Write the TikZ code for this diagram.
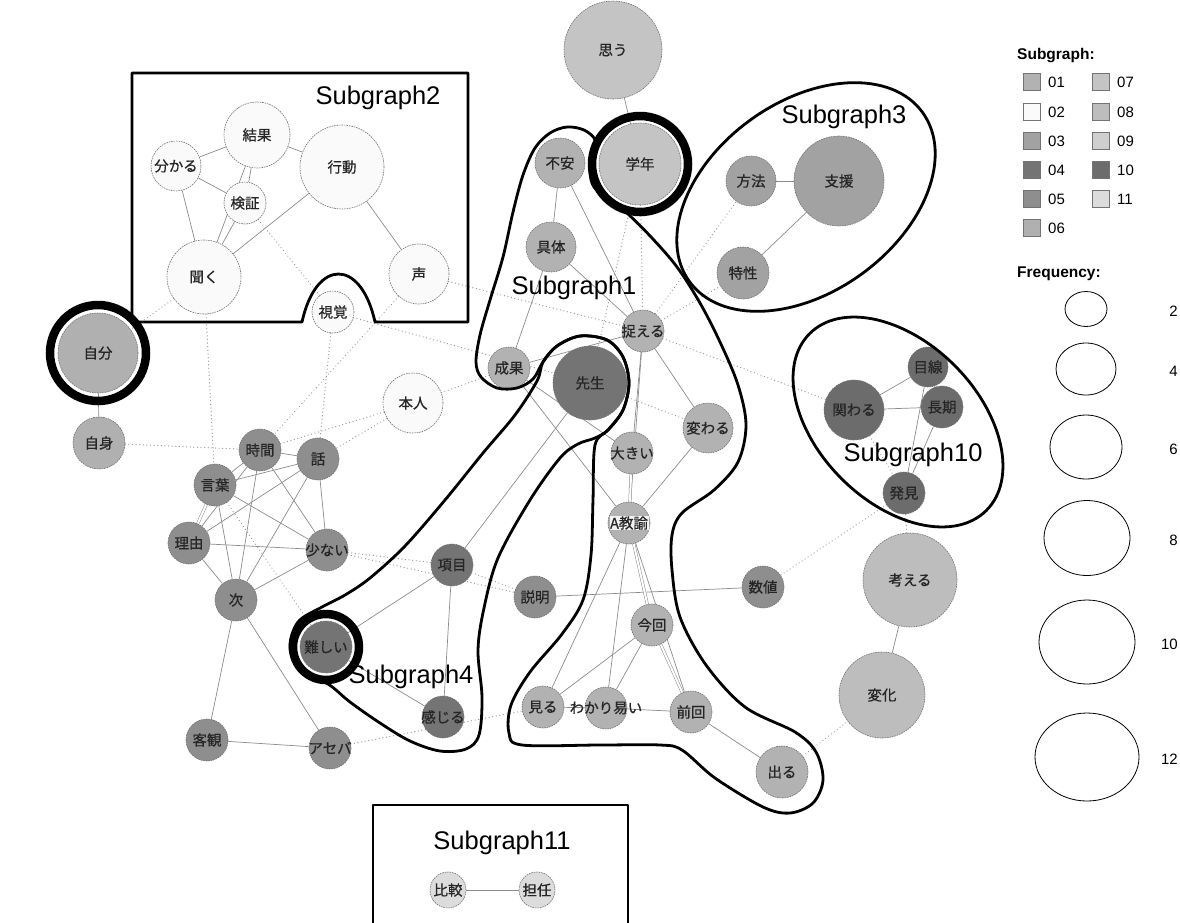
\documentclass[tikz,border=0pt]{standalone}
\usepackage{fontspec}
\setmainfont{Liberation Sans}
\newfontfamily\jp[AutoFakeBold=0.7]{Noto Sans CJK JP}
\usetikzlibrary{backgrounds,shapes.geometric}
\definecolor{c01}{HTML}{B2B2B2}
\definecolor{c02}{HTML}{FAFAFA}
\definecolor{c03}{HTML}{A2A2A2}
\definecolor{c04}{HTML}{747474}
\definecolor{c05}{HTML}{8E8E8E}
\definecolor{c06}{HTML}{B0B0B0}
\definecolor{c07}{HTML}{C4C4C4}
\definecolor{c08}{HTML}{BDBDBD}
\definecolor{c09}{HTML}{CFCFCF}
\definecolor{c10}{HTML}{6C6C6C}
\definecolor{c11}{HTML}{DCDCDC}
\tikzset{
 nd/.style={circle, draw=black!55, dash pattern=on 1.6pt off 0.9pt, line width=0.6pt, inner sep=0pt, font=\jp\bfseries\fontsize{14.5}{14.5}\selectfont, text=black!85,
   execute at begin node={\hbox to 0pt\bgroup\hss}, execute at end node={\hss\egroup}},
 ed/.style={draw=black!45, line width=0.7pt},
 edd/.style={draw=black!45, line width=0.5pt, double=white, double distance=2pt},
 dt/.style={draw=black!40, line width=1.3pt, dash pattern=on 0.01pt off 3.6pt, line cap=round},
 sgline/.style={draw=black, line width=2.8pt, line join=round},
 ring/.style={draw=black, line width=8.5pt},
 sglabel/.style={font=\fontsize{25.5}{26}\selectfont, inner sep=0pt},
 lgbox/.style={rectangle, draw=black!55, line width=0.6pt, minimum size=17pt, inner sep=0pt},
 lgtxt/.style={font=\fontsize{15}{15}\selectfont, inner sep=0pt, anchor=west},
 lgell/.style={ellipse, draw=black, line width=0.8pt, inner sep=0pt},
 lgnum/.style={font=\fontsize{15}{15}\selectfont, inner sep=0pt, anchor=east},
}
\begin{document}
\begin{tikzpicture}[x=1pt,y=-1pt]
\useasboundingbox (0,0) rectangle (1180,922);
% ---------- nodes ----------
\node[nd, fill=c07, minimum size=98pt] (omou) at (613,50) {思う};
\node[nd, fill=c07, minimum size=82pt] (gakunen) at (640,164) {学年};
\node[nd, fill=c01, minimum size=50pt] (fuan) at (560,163) {不安};
\node[nd, fill=c01, minimum size=50pt] (gutai) at (551,247) {具体};
\node[nd, fill=c03, minimum size=50pt] (houhou) at (751,181) {方法};
\node[nd, fill=c03, minimum size=90pt] (shien) at (839,181) {支援};
\node[nd, fill=c03, minimum size=52pt] (tokusei) at (743,273) {特性};
\node[nd, fill=c02, minimum size=66pt] (kekka) at (257,135) {結果};
\node[nd, fill=c02, minimum size=50pt] (wakaru) at (176,166) {分かる};
\node[nd, fill=c02, minimum size=84pt] (koudou) at (342,167) {行動};
\node[nd, fill=c02, minimum size=42pt] (kenshou) at (245,203) {検証};
\node[nd, fill=c02, minimum size=74pt] (kiku) at (204,277) {聞く};
\node[nd, fill=c02, minimum size=60pt] (koe) at (419,274) {声};
\node[nd, fill=c02, minimum size=42pt] (shikaku) at (333,312) {視覚};
\node[nd, fill=c06, minimum size=80pt] (jibun) at (98,353) {自分};
\node[nd, fill=c06, minimum size=52pt] (jishin) at (99,443) {自身};
\node[nd, fill=c02, minimum size=60pt] (honnin) at (413,403) {本人};
\node[nd, fill=c05, minimum size=42pt] (jikan) at (260,450) {時間};
\node[nd, fill=c05, minimum size=42pt] (hanashi) at (318,459) {話};
\node[nd, fill=c05, minimum size=42pt] (kotoba) at (215,485) {言葉};
\node[nd, fill=c05, minimum size=42pt] (riyuu) at (189,543) {理由};
\node[nd, fill=c05, minimum size=42pt] (sukunai) at (327,550) {少ない};
\node[nd, fill=c05, minimum size=42pt] (tsugi) at (236,600) {次};
\node[nd, fill=c05, minimum size=42pt] (kyakkan) at (207,740) {客観};
\node[nd, fill=c05, minimum size=42pt] (aseba) at (330,748) {アセバ};
\node[nd, fill=c04, minimum size=42pt] (koumoku) at (452,565) {項目};
\node[nd, fill=c04, minimum size=52pt] (muzu) at (326,647) {難しい};
\node[nd, fill=c04, minimum size=42pt] (kanjiru) at (443,717) {感じる};
\node[nd, fill=c04, minimum size=74pt] (sensei) at (590,383) {先生};
\node[nd, fill=c01, minimum size=42pt] (toraeru) at (643,331) {捉える};
\node[nd, fill=c01, minimum size=42pt] (seika) at (509,368) {成果};
\node[nd, fill=c01, minimum size=50pt] (kawaru) at (708,428) {変わる};
\node[nd, fill=c01, minimum size=42pt] (ookii) at (632,453) {大きい};
\node[nd, fill=c01, minimum size=42pt] (akyo) at (629,523) {};
\node[fill=white!85!c01, inner sep=0.6pt, font=\jp\bfseries\fontsize{14.5}{14.5}\selectfont, text=black!85] (akyolab) at (629,523) {A教諭};
\node[nd, fill=c05, minimum size=42pt] (setsumei) at (535,597) {説明};
\node[nd, fill=c05, minimum size=42pt] (suuchi) at (763,587) {数値};
\node[nd, fill=c01, minimum size=42pt] (konkai) at (652,625) {今回};
\node[nd, fill=c01, minimum size=42pt] (miru) at (543,707) {見る};
\node[nd, fill=c01, minimum size=42pt] (wakari) at (606,708) {わかり易い};
\node[nd, fill=c01, minimum size=42pt] (zenkai) at (691,712) {前回};
\node[nd, fill=c01, minimum size=52pt] (deru) at (782,772) {出る};
\node[nd, fill=c10, minimum size=40pt] (mesen) at (928,367) {目線};
\node[nd, fill=c10, minimum size=60pt] (kakawaru) at (854,410) {関わる};
\node[nd, fill=c10, minimum size=42pt] (chouki) at (942,407) {長期};
\node[nd, fill=c10, minimum size=42pt] (hakken) at (904,493) {発見};
\node[nd, fill=c08, minimum size=94pt] (kangaeru) at (910,580) {考える};
\node[nd, fill=c08, minimum size=86pt] (henka) at (882,695) {変化};
\node[nd, fill=c11, minimum size=36pt] (hikaku) at (448,890) {比較};
\node[nd, fill=c11, minimum size=36pt] (tannin) at (537,890) {担任};
% ---------- edges ----------
\begin{scope}[on background layer]
\fill[white] (0,0) rectangle (1180,922);
% dotted
\foreach \a/\b in {kiku/jibun, kiku/kotoba, kenshou/shikaku, koe/toraeru, koe/jikan, shikaku/hanashi, shikaku/sensei, jishin/jikan, honnin/seika, honnin/hanashi, honnin/jikan, sukunai/koumoku, sukunai/setsumei, koumoku/setsumei, aseba/miru, sensei/kawaru, toraeru/kakawaru, hakken/suuchi, kakawaru/hakken, deru/henka, kangaeru/hakken, kotoba/muzu, gakunen/sensei, gakunen/toraeru, toraeru/houhou, toraeru/tokusei}
  \draw[dt] (\a) -- (\b);
% solid
\foreach \a/\b in {omou/gakunen, fuan/gutai, fuan/toraeru, gutai/toraeru, gutai/seika, seika/toraeru, toraeru/ookii, toraeru/akyo, toraeru/kawaru, seika/ookii, seika/akyo, kawaru/akyo, akyo/miru, akyo/wakari, akyo/zenkai, konkai/miru, konkai/wakari, miru/wakari, wakari/zenkai, zenkai/deru, houhou/shien, shien/tokusei, wakaru/kekka, kekka/koudou, wakaru/kenshou, kekka/kenshou, kekka/kiku, kenshou/kiku, wakaru/kiku, koudou/kiku, koudou/koe, jibun/jishin, jikan/hanashi, jikan/kotoba, jikan/riyuu, jikan/tsugi, jikan/sukunai, hanashi/kotoba, hanashi/riyuu, hanashi/tsugi, hanashi/sukunai, kotoba/tsugi, kotoba/sukunai, riyuu/sukunai, riyuu/tsugi, tsugi/sukunai, tsugi/kyakkan, tsugi/aseba, kyakkan/aseba, sensei/koumoku, koumoku/muzu, koumoku/kanjiru, muzu/kanjiru, setsumei/suuchi, kakawaru/mesen, kakawaru/chouki, mesen/chouki, mesen/hakken, chouki/hakken, kangaeru/henka, hikaku/tannin}
  \draw[ed] (\a) -- (\b);
\foreach \a/\b in {ookii/akyo, akyo/konkai, konkai/zenkai, kotoba/riyuu}
  \draw[edd] (\a) -- (\b);
\end{scope}
% ---------- subgraph outlines ----------
\draw[sgline] (132,73) -- (468,73) -- (468,322) -- (375,322) .. controls (361,258) and (316,258) .. (302,322) -- (132,322) -- cycle;
\draw[sgline] (373,925) -- (373,805) -- (628,805) -- (628,925);
\draw[sgline] [rotate around={36:(806,197)}] (806,197) ellipse [x radius=144pt, y radius=95pt];
\draw[sgline] [rotate around={-45:(898,422)}] (898,422) ellipse [x radius=125pt, y radius=80pt];
\draw[sgline] plot[smooth cycle, tension=0.55] coordinates {(490,300) (503,257) (513,212) (523,175) (535,148) (550,133) (567,127) (584,130) (595,140) (592,155) (590,172) (594,187) (610,200) (628,214) (652,238) (677,267) (700,303) (720,342) (738,385) (746,425) (738,462) (714,490) (682,513) (672,535) (672,570) (680,617) (706,665) (745,707) (795,732) (816,752) (823,780) (813,803) (790,813) (763,807) (715,778) (682,750) (660,745) (600,745) (522,745) (509,733) (511,705) (530,672) (562,634) (583,600) (591,555) (593,500) (595,445) (608,430) (623,410) (629,383) (623,357) (607,340) (580,336) (557,346) (543,362) (533,379) (517,388) (497,388) (481,377) (476,362) (480,335)};
\draw[sgline] plot[smooth cycle, tension=0.55] coordinates {(537,381) (543,362) (557,346) (580,336) (607,340) (623,357) (629,383) (623,410) (608,430) (595,438) (578,444) (560,458) (530,500) (498,558) (484,608) (478,650) (482,697) (479,735) (466,749) (440,751) (410,741) (380,723) (350,702) (328,684) (302,673) (290,648) (298,622) (322,607) (345,595) (370,578) (405,546) (445,500) (483,453) (515,415)};
% rings
\draw[ring] (jibun.center) circle[radius=48pt];
\draw[ring] (gakunen.center) circle[radius=48pt];
\draw[ring] (muzu.center) circle[radius=33pt];
% subgraph labels
\node[sglabel] (sg2) at (378,98) {Subgraph2};
\node[sglabel] (sg3) at (844,117) {Subgraph3};
\node[sglabel] (sg1) at (574,288) {Subgraph1};
\node[sglabel] (sg10) at (913,455) {Subgraph10};
\node[sglabel] (sg4) at (411,677) {Subgraph4};
\node[sglabel] (sg11) at (502,843) {Subgraph11};
% ---------- legend ----------
\node[font=\bfseries\fontsize{15.5}{16}\selectfont, inner sep=0pt, anchor=west] (lgt1) at (1017,56) {Subgraph:};
\node[lgbox, fill=c01] (l01) at (1032,82) {};  \node[lgtxt] (t01) at (1048,82) {01};
\node[lgbox, fill=c02] (l02) at (1032,112) {}; \node[lgtxt] (t02) at (1048,112) {02};
\node[lgbox, fill=c03] (l03) at (1032,141) {}; \node[lgtxt] (t03) at (1048,141) {03};
\node[lgbox, fill=c04] (l04) at (1032,170) {}; \node[lgtxt] (t04) at (1048,170) {04};
\node[lgbox, fill=c05] (l05) at (1032,199) {}; \node[lgtxt] (t05) at (1048,199) {05};
\node[lgbox, fill=c06] (l06) at (1032,228) {}; \node[lgtxt] (t06) at (1048,228) {06};
\node[lgbox, fill=c07] (l07) at (1101,82) {};  \node[lgtxt] (t07) at (1117,82) {07};
\node[lgbox, fill=c08] (l08) at (1101,112) {}; \node[lgtxt] (t08) at (1117,112) {08};
\node[lgbox, fill=c09] (l09) at (1101,141) {}; \node[lgtxt] (t09) at (1117,141) {09};
\node[lgbox, fill=c10] (l10) at (1101,170) {}; \node[lgtxt] (t10) at (1117,170) {10};
\node[lgbox, fill=c11] (l11) at (1101,199) {}; \node[lgtxt] (t11) at (1117,199) {11};
\node[font=\bfseries\fontsize{15.5}{16}\selectfont, inner sep=0pt, anchor=west] (lgt2) at (1017,274) {Frequency:};
\node[lgell, minimum width=42pt, minimum height=35pt] (f2) at (1086,309) {};
\node[lgell, minimum width=60pt, minimum height=52pt] (f4) at (1086,369) {};
\node[lgell, minimum width=72pt, minimum height=64pt] (f6) at (1086,447) {};
\node[lgell, minimum width=86pt, minimum height=75pt] (f8) at (1087,538) {};
\node[lgell, minimum width=96pt, minimum height=84pt] (f10) at (1087,642) {};
\node[lgell, minimum width=104pt, minimum height=88pt] (f12) at (1087,757) {};
\node[lgnum] (n2) at (1178,311) {2};
\node[lgnum] (n4) at (1178,371) {4};
\node[lgnum] (n6) at (1178,449) {6};
\node[lgnum] (n8) at (1178,540) {8};
\node[lgnum] (n10) at (1178,644) {10};
\node[lgnum] (n12) at (1178,759) {12};
\end{tikzpicture}
\end{document}
